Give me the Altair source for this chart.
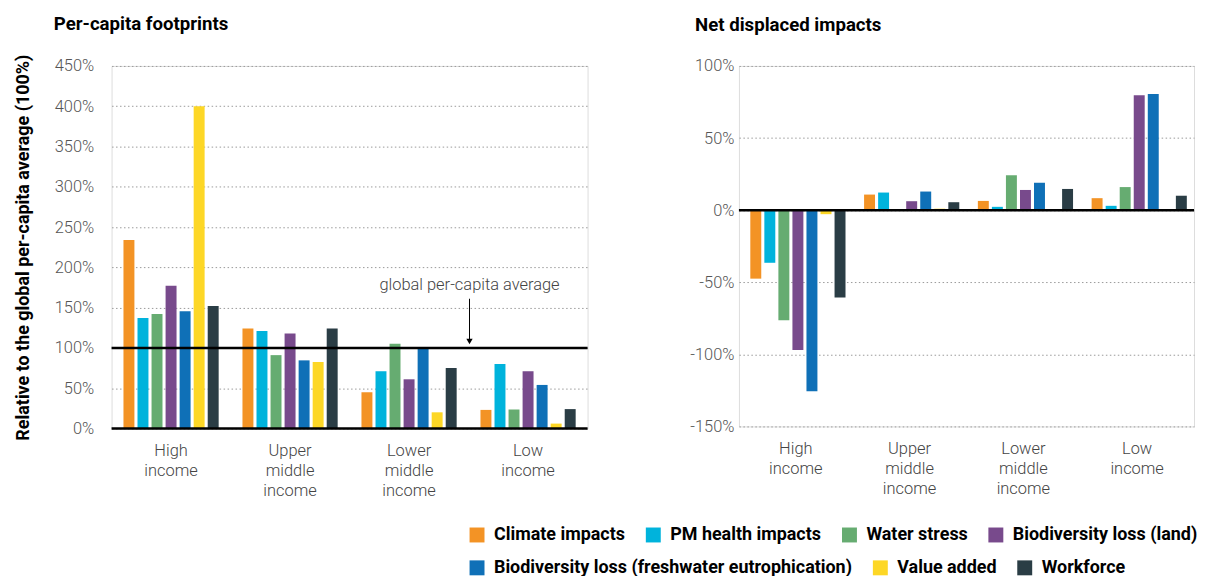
import altair as alt
import pandas as pd

# ---------------- data ----------------
groups = ["High income", "Upper middle income", "Lower middle income", "Low income"]
series_names = [
    "Climate impacts",
    "PM health impacts",
    "Water stress",
    "Biodiversity loss (land)",
    "Biodiversity loss (freshwater eutrophication)",
    "Value added",
    "Workforce",
]
series_colors = ["#F39325", "#00B3DC", "#66AC71", "#784A8C", "#0F70B7", "#FDD726", "#2A3D45"]
legend_row1 = series_names[:4]
legend_row2 = series_names[4:]

# Per-capita footprints (% of global per-capita average), per income group
fp_climate = [234, 124, 45, 23]
fp_pm = [137, 121, 71, 80]
fp_water = [142, 91, 105, 23.5]
fp_bio_land = [177, 118, 61, 71]
fp_bio_fresh = [145.5, 84.5, 101, 54]
fp_value_added = [400, 82.5, 20, 6]
fp_workforce = [152, 124, 75, 24]

# Net displaced impacts (%), per income group
nd_climate = [-47.5, 10.8, 6.4, 8.3]
nd_pm = [-36.5, 12.2, 2.3, 3]
nd_water = [-76.4, 0, 24.2, 16]
nd_bio_land = [-97, 6.2, 14, 79.6]
nd_bio_fresh = [-125.6, 12.9, 19, 80.5]
nd_value_added = [-2.8, 1, 0, 0]
nd_workforce = [-60.5, 5.5, 14.7, 10]

left_ticks = [0, 50, 100, 150, 200, 250, 300, 350, 400, 450]
right_ticks = [-150, -100, -50, 0, 50, 100]
left_ref_lines = [0, 100]
right_ref_lines = [0]

annotation_text = "global per-capita average"
annotation_group = "Low income"
annotation_text_y = 178
annotation_arrow_from = 161
annotation_arrow_to = 108


def to_long(lists):
    rows = []
    for name, vals in zip(series_names, lists):
        for g, v in zip(groups, vals):
            rows.append({"group": g, "series": name, "value": v})
    return pd.DataFrame(rows)


fp_df = to_long([fp_climate, fp_pm, fp_water, fp_bio_land, fp_bio_fresh, fp_value_added, fp_workforce])
nd_df = to_long([nd_climate, nd_pm, nd_water, nd_bio_land, nd_bio_fresh, nd_value_added, nd_workforce])

FONT = "Roboto"


def legend(y):
    return alt.Legend(
        title=None,
        orient="none",
        legendX=358,
        legendY=y,
        direction="horizontal",
        symbolType="square",
        symbolSize=225,
        symbolStrokeWidth=0,
        symbolOpacity=1,
        labelFont=FONT,
        labelFontSize=18,
        labelFontWeight="bold",
        labelColor="#000000",
        labelLimit=1000,
        labelOffset=8,
        columnPadding=19,
    )


def panel(df, domain, ticks, width, height, title, title_dx, title_offset, label_pad, ytitle, ref_lines, annotate):
    x = alt.X(
        "group:N",
        sort=groups,
        scale=alt.Scale(domain=groups, paddingInner=0.2, paddingOuter=0.1),
        axis=alt.Axis(
            title=None,
            labelExpr="split(datum.label, ' ')",
            labelAngle=0,
            ticks=False,
            domain=False,
            labelPadding=14,
            labelFont=FONT,
            labelFontSize=16.5,
            labelFontWeight=300,
            labelLineHeight=20,
            labelColor="#444444",
            labelBaseline="top",
        ),
    )
    yaxis = dict(
        values=ticks,
        labelExpr="datum.value + '%'",
        grid=True,
        gridDash=[1.5, 2.5],
        gridColor="#9a9a9a",
        gridWidth=1,
        domain=False,
        ticks=False,
        labelPadding=label_pad,
        labelFont=FONT,
        labelFontSize=16.5,
        labelFontWeight=300,
        labelColor="#555555",
    )
    if ytitle:
        yaxis.update(
            title=ytitle,
            titleFont=FONT,
            titleFontSize=18,
            titleFontWeight="bold",
            titleColor="#000000",
            titlePadding=22,
        )
    else:
        yaxis.update(title=None)
    y = alt.Y("value:Q", scale=alt.Scale(domain=domain, nice=False, zero=False), axis=alt.Axis(**yaxis))
    xoff = alt.XOffset("series:N", scale=alt.Scale(domain=series_names, paddingInner=0.22))

    base = alt.Chart(df)
    bars1 = base.transform_filter(
        alt.FieldOneOfPredicate(field="series", oneOf=legend_row1)
    ).mark_bar().encode(
        x=x,
        y=y,
        xOffset=xoff,
        color=alt.Color("series:N", scale=alt.Scale(domain=legend_row1, range=series_colors[:4]), legend=legend(462)),
    )
    bars2 = base.transform_filter(
        alt.FieldOneOfPredicate(field="series", oneOf=legend_row2)
    ).mark_bar().encode(
        x=x,
        y=y,
        xOffset=xoff,
        fill=alt.Fill("series:N", scale=alt.Scale(domain=legend_row2, range=series_colors[4:]), legend=legend(495)),
    )
    rules = alt.Chart(pd.DataFrame({"value": ref_lines})).mark_rule(color="#000000", strokeWidth=2.5).encode(
        y=alt.Y("value:Q")
    )
    layers = [bars1, bars2, rules]
    if annotate:
        ann = pd.DataFrame({
            "group": [annotation_group],
            "ty": [annotation_text_y],
            "a1": [annotation_arrow_from],
            "a2": [annotation_arrow_to],
            "label": [annotation_text],
        })
        ax = alt.X("group:N", bandPosition=0)
        txt = alt.Chart(ann).mark_text(
            font=FONT, fontSize=16.5, fontWeight=300, color="#444444", dx=-11, baseline="middle"
        ).encode(x=ax, y=alt.Y("ty:Q"), text="label:N")
        arrow = alt.Chart(ann).mark_rule(color="#000000", strokeWidth=1, xOffset=-11).encode(
            x=ax, y=alt.Y("a1:Q"), y2="a2:Q"
        )
        head = alt.Chart(ann).mark_point(
            shape="triangle-down", filled=True, color="#000000", size=40, opacity=1, xOffset=-11
        ).encode(x=ax, y=alt.Y("a2:Q"))
        layers += [txt, arrow, head]

    return alt.layer(*layers).properties(
        width=width,
        height=height,
        title=alt.TitleParams(
            title,
            anchor="start",
            frame="group",
            dx=title_dx,
            offset=title_offset,
            font=FONT,
            fontSize=18.7,
            fontWeight="bold",
            color="#000000",
        ),
    )


left = panel(fp_df, [0, 450], left_ticks, 478, 364, "Per-capita footprints", -58, 20, 18,
             "Relative to the global per-capita average (100%)", left_ref_lines, True)
right = panel(nd_df, [-150, 100], right_ticks, 457, 362, "Net displaced impacts", -44, 23, 5,
              None, right_ref_lines, False)

chart = alt.hconcat(left, right, spacing=100).properties(
    padding={"left": 5, "top": 5, "right": 0, "bottom": 0}
).configure_view(stroke=None).configure(font=FONT)

chart.save("out.html", embed_options={"renderer": "svg", "actions": False})
